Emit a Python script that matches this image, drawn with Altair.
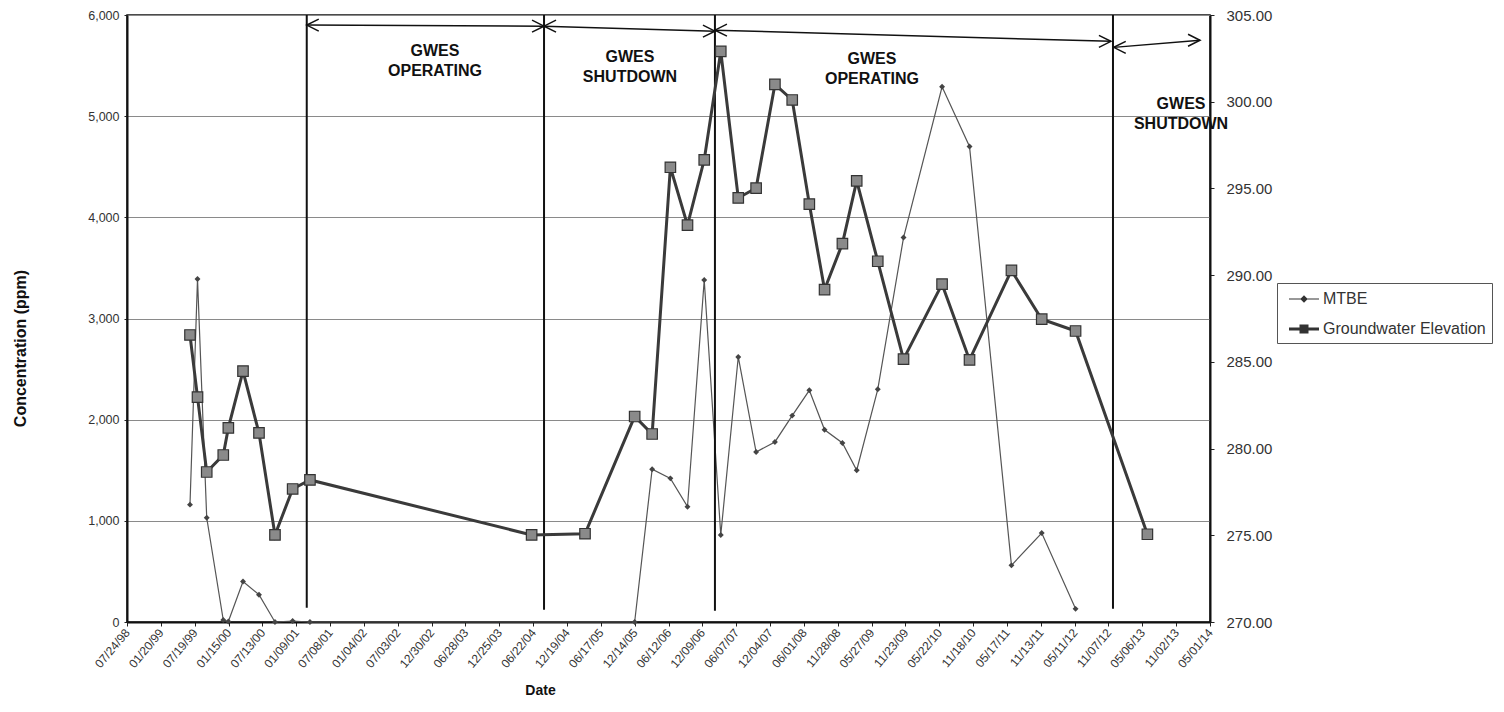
import altair as alt
import pandas as pd

FONT = "Liberation Sans"

# ---------------- data ----------------
sample_dates = ["1999-06-24", "1999-08-03", "1999-09-21", "1999-12-18", "2000-01-14",
                "2000-04-01", "2000-06-25", "2000-09-18", "2000-12-21", "2001-03-23",
                "2004-06-14", "2005-03-25", "2005-12-14", "2006-03-17", "2006-06-22",
                "2006-09-21", "2006-12-19", "2007-03-17", "2007-06-18", "2007-09-21",
                "2007-12-30", "2008-03-31", "2008-06-30", "2008-09-19", "2008-12-23",
                "2009-03-09", "2009-06-29", "2009-11-13", "2010-06-06", "2010-10-30",
                "2011-06-10", "2011-11-18", "2012-05-16", "2013-06-02"]
mtbe_ppm = [1160, 3390, 1030, 20, 5, 400, 270, 0, 10, 0,
            None, None, 0, 1510, 1420, 1140, 3380, 860, 2620, 1680,
            1780, 2040, 2290, 1900, 1770, 1500, 2300, 3800, 5290, 4700,
            560, 880, 130, None]
gw_elev = [286.55, 282.97, 278.65, 279.63, 281.19, 284.47, 280.90, 275.02, 277.67, 278.19,
           275.02, 275.09, 281.85, 280.84, 296.22, 292.88, 296.65, 302.90, 294.45, 295.02,
           301.00, 300.10, 294.10, 289.17, 291.82, 295.44, 290.80, 285.16, 289.48, 285.11,
           290.27, 287.46, 286.78, 275.06]

tick_labels = ["07/24/98", "01/20/99", "07/19/99", "01/15/00", "07/13/00", "01/09/01",
               "07/08/01", "01/04/02", "07/03/02", "12/30/02", "06/28/03", "12/25/03",
               "06/22/04", "12/19/04", "06/17/05", "12/14/05", "06/12/06", "12/09/06",
               "06/07/07", "12/04/07", "06/01/08", "11/28/08", "05/27/09", "11/23/09",
               "05/22/10", "11/18/10", "05/17/11", "11/13/11", "05/11/12", "11/07/12",
               "05/06/13", "11/02/13", "05/01/14"]
left_ticks = [0, 1000, 2000, 3000, 4000, 5000, 6000]
right_ticks = [270, 275, 280, 285, 290, 295, 300, 305]

# GWES status change lines
shift_dates = ["2001-03-06", "2004-08-19", "2007-02-14", "2012-12-01"]
shift_top = [6000, 6000, 6000, 6000]
shift_bottom = [140, 120, 110, 130]

# period arrows
arrow_start = ["2001-03-06", "2004-08-19", "2007-02-14", "2012-12-05"]
arrow_end = ["2004-08-19", "2007-02-14", "2012-11-20", "2014-03-09"]
arrow_y_start = [5900, 5890, 5850, 5680]
arrow_y_end = [5890, 5840, 5740, 5750]

ann_text = ["GWES\nOPERATING", "GWES\nSHUTDOWN", "GWES\nOPERATING", "GWES\nSHUTDOWN"]
ann_date = ["2003-01-17", "2005-11-19", "2009-05-29", "2013-11-28"]
ann_y = [5720, 5660, 5640, 5200]

legend_names = ["MTBE", "Groundwater Elevation"]

# ---------------- tables ----------------
base = pd.Timestamp("1998-07-24")


def days(values):
    return [int((pd.Timestamp(v) - base).days) for v in values]


df = pd.DataFrame({"date": sample_dates, "mtbe": mtbe_ppm, "gw": gw_elev})
df["day"] = days(df["date"])
mtbe_df = df.dropna(subset=["mtbe"]).copy()

tick_days = [int((pd.to_datetime(t, format="%m/%d/%y") - base).days) for t in tick_labels]

shift_df = pd.DataFrame({"day": days(shift_dates), "top": shift_top, "bottom": shift_bottom})
arrow_df = pd.DataFrame({"d0": days(arrow_start), "d1": days(arrow_end),
                         "y0": arrow_y_start, "y1": arrow_y_end})
ann_df = pd.DataFrame({"label": ann_text, "day": days(ann_date), "y": ann_y})
leg_df = pd.DataFrame({"series": legend_names})

label_expr = ("[" + ",".join("'%s'" % t for t in tick_labels) + "][indexof(["
              + ",".join(str(d) for d in tick_days) + "], datum.value)]")

# ---------------- scales / axes ----------------
x_scale = alt.Scale(domain=[tick_days[0], tick_days[-1]], nice=False, zero=False)
x_axis = alt.Axis(values=tick_days, labelExpr=label_expr, labelAngle=-50,
                  labelAlign="right", labelBaseline="middle", labelFont=FONT,
                  labelFontSize=12, labelColor="#333", labelPadding=4,
                  labelOverlap=False, labelFlush=False, labelBound=False,
                  tickSize=4, tickColor="#222", domainColor="#111", domainWidth=2,
                  grid=False, title="Date", titleFont=FONT, titleFontSize=14,
                  titleFontWeight="bold", titleColor="#111", titleX=413, titleY=72,
                  titleBaseline="alphabetic", titleAlign="center")

yl_scale = alt.Scale(domain=[0, 6000], nice=False, zero=False)
yl_axis = alt.Axis(orient="left", values=left_ticks, format=",.0f", labelFont=FONT,
                   labelFontSize=12.5, labelColor="#333", labelPadding=5,
                   tickSize=3, tickColor="#222", domainColor="#111", domainWidth=2,
                   grid=True, gridColor="#8a8a8a", gridWidth=1.2,
                   title="Concentration (ppm)", titleFont=FONT, titleFontSize=16,
                   titleFontWeight="bold", titleColor="#111", titleX=-107, titleY=333,
                   titleBaseline="middle", titleAlign="center", titleAngle=270)

yr_scale = alt.Scale(domain=[270, 305], nice=False, zero=False)
yr_axis = alt.Axis(orient="right", values=right_ticks, format=".2f", labelFont=FONT,
                   labelFontSize=15, labelColor="#333", labelPadding=12,
                   tickSize=4, tickColor="#222", domainColor="#111", domainWidth=2,
                   grid=False, title=None)


def X(field):
    return alt.X(f"{field}:Q", scale=x_scale, axis=x_axis)


def YL(field):
    return alt.Y(f"{field}:Q", scale=yl_scale, axis=yl_axis)


def YR(field):
    return alt.Y(f"{field}:Q", scale=yr_scale, axis=yr_axis)


# ---------------- left (MTBE) group ----------------
mtbe_line = alt.Chart(mtbe_df).mark_line(color="#555", strokeWidth=1.2).encode(
    x=X("day"), y=YL("mtbe"), order="day:Q")
mtbe_pts = alt.Chart(mtbe_df).mark_point(shape="diamond", filled=True, color="#444",
                                         size=35, opacity=1).encode(x=X("day"), y=YL("mtbe"))

rules = alt.Chart(shift_df).mark_rule(color="#111", strokeWidth=2).encode(
    x=X("day"), y=YL("top"), y2="bottom:Q")

arrows = alt.Chart(arrow_df).mark_rule(color="#111", strokeWidth=1.5).encode(
    x=X("d0"), x2="d1:Q", y=YL("y0"), y2="y1:Q")

left_head = "M2.4,-1.2L0,0L2.4,1.2"
right_head = "M-2.4,-1.2L0,0L-2.4,1.2"
heads_l = alt.Chart(arrow_df).mark_point(shape=left_head, filled=False, stroke="#111",
                                         strokeWidth=1.5, size=100, opacity=1).encode(
    x=X("d0"), y=YL("y0"))
heads_r = alt.Chart(arrow_df).mark_point(shape=right_head, filled=False, stroke="#111",
                                         strokeWidth=1.5, size=100, opacity=1).encode(
    x=X("d1"), y=YL("y1"))

ann = alt.Chart(ann_df).mark_text(align="center", baseline="top", lineBreak="\n",
                                  font=FONT, fontSize=16, fontWeight="bold",
                                  color="#111", lineHeight=20).encode(
    x=X("day"), y=YL("y"), text="label:N")

left_group = alt.layer(mtbe_line, mtbe_pts, rules, arrows, heads_l, heads_r, ann)

# ---------------- right (groundwater) group ----------------
gw_line = alt.Chart(df).mark_line(color="#3a3a3a", strokeWidth=3).encode(
    x=X("day"), y=YR("gw"), order="day:Q")
gw_pts = alt.Chart(df).mark_point(shape="square", filled=True, fill="#8a8a8a",
                                  stroke="#333", strokeWidth=1.2, size=110,
                                  opacity=1).encode(x=X("day"), y=YR("gw"))
right_group = alt.layer(gw_line, gw_pts)

# ---------------- legend ----------------
mtbe_sym = "M-1.5,-0.05H1.5V0.05H-1.5ZM0,-0.375L0.375,0L0,0.375L-0.375,0Z"
gw_sym = "M-1.5,-0.15H1.5V0.15H-1.5ZM-0.45,-0.45H0.45V0.45H-0.45Z"
legend_layer = alt.Chart(leg_df).transform_filter("false").mark_point(
    filled=True, fill="#333", strokeWidth=0, opacity=1).encode(
    shape=alt.Shape("series:N",
                    scale=alt.Scale(domain=legend_names, range=[mtbe_sym, gw_sym]),
                    legend=alt.Legend(title=None, orient="none", legendX=1150, legendY=268,
                                      symbolSize=400, symbolFillColor="#333",
                                      symbolStrokeWidth=0, symbolOffset=11,
                                      labelOffset=9, labelFont=FONT, labelFontSize=16,
                                      labelColor="#333", labelLimit=400, padding=6,
                                      rowPadding=12, strokeColor="#555",
                                      fillColor="white")))

chart = alt.layer(left_group, right_group, legend_layer).resolve_scale(
    y="independent").properties(
    width=1083, height=607,
    autosize=alt.AutoSizeParams(type="none"),
    padding={"left": 119, "top": 7, "right": 286, "bottom": 78},
).configure(font=FONT).configure_view(stroke="#111", strokeWidth=1.5)

chart.save("out.html", embed_options={"renderer": "svg", "actions": False})
